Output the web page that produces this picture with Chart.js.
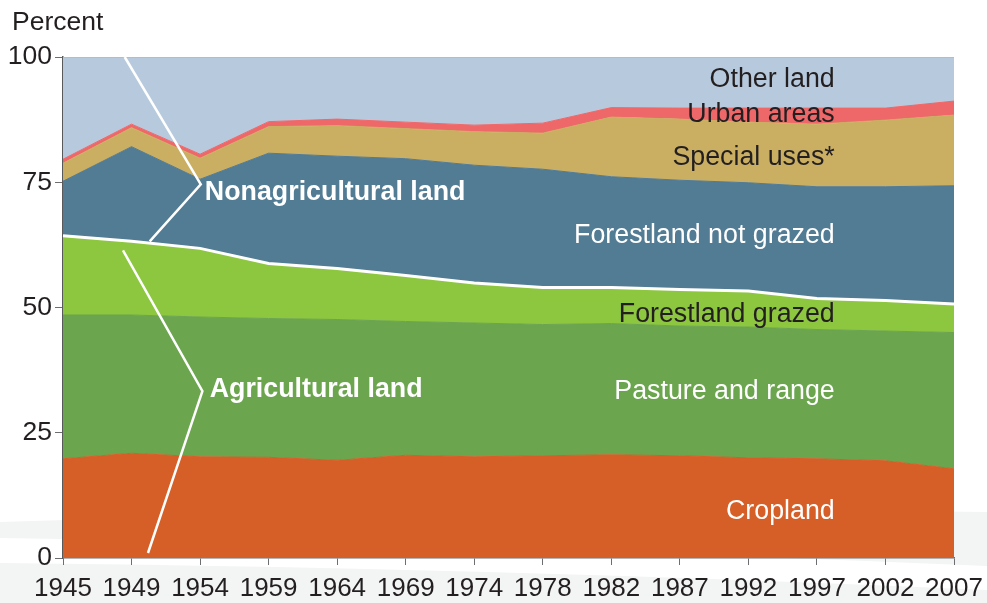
<!DOCTYPE html>
<html>
<head>
<meta charset="utf-8">
<script src="https://cdn.jsdelivr.net/npm/chart.js@4/dist/chart.umd.min.js"></script>
<style>
  html, body { margin: 0; padding: 0; background: #fff; }
  #wrap { width: 987px; height: 603px; position: relative; }
</style>
</head>
<body>
<div id="wrap"><canvas id="landChart" width="987" height="603"></canvas></div>
<script>
const years = ['1945', '1949', '1954', '1959', '1964', '1969', '1974', '1978', '1982', '1987', '1992', '1997', '2002', '2007'];
const yTicks = [0, 25, 50, 75, 100];

// share of total land area, percent (each layer stacked on the one below)
const cropland        = [19.8, 20.9, 20.2, 20.1, 19.5, 20.5, 20.2, 20.4, 20.6, 20.4, 20.0, 19.8, 19.4, 17.8];
const pastureRange    = [28.7, 27.6, 27.9, 27.7, 28.1, 26.7, 26.7, 26.2, 26.2, 25.9, 26.1, 25.8, 25.9, 27.2];
const forestGrazed    = [15.8, 14.7, 13.7, 11.0, 10.2,  9.2,  8.0,  7.4,  7.2,  7.3,  7.2,  6.2,  6.1,  5.7];
const forestNotGrazed = [10.9, 18.9, 13.8, 22.0, 22.4, 23.3, 23.5, 23.6, 22.1, 21.8, 21.6, 22.3, 22.7, 23.6];
const specialUses     = [ 3.6,  3.8,  4.2,  5.3,  6.1,  6.0,  6.7,  7.2, 11.9, 12.2, 12.1, 12.5, 13.3, 14.1];
const urbanAreas      = [ 0.8,  0.7,  0.8,  1.0,  1.3,  1.3,  1.3,  2.0,  1.9,  2.2,  2.8,  3.2,  2.4,  2.8];
const otherLand       = [20.4, 13.4, 19.4, 12.9, 12.4, 13.0, 13.6, 13.2, 10.1, 10.2, 10.2, 10.2, 10.2,  8.8];

const FONT = "'Liberation Sans', Arial, Helvetica, sans-serif";
const DARK = '#231f20';

// series labels drawn inside the areas: [text, x (category index), y (percent), color, bold, align]
const areaLabels = [
  ['Other land', 11.26, 95.5, DARK, false, 'right'],
  ['Urban areas', 11.26, 88.5, DARK, false, 'right'],
  ['Special uses*', 11.26, 79.9, DARK, false, 'right'],
  ['Forestland not grazed', 11.26, 64.4, '#fff', false, 'right'],
  ['Forestland grazed', 11.26, 48.6, DARK, false, 'right'],
  ['Pasture and range', 11.26, 33.2, '#fff', false, 'right'],
  ['Cropland', 11.26, 9.2, '#fff', false, 'right'],
  ['Nonagricultural land', 2.07, 73.0, '#fff', true, 'left'],
  ['Agricultural land', 2.14, 33.7, '#fff', true, 'left']
];

// bracket lines pointing at the two groups, in data units
const bracketNonAg = [[0.90, 100], [2.01, 74.6], [1.265, 63.2]];
const bracketAg = [[0.875, 61.4], [2.034, 33.3], [1.24, 1.0]];

const backdrop = {
  id: 'backdrop',
  beforeDraw(chart) {
    const ctx = chart.ctx;
    ctx.save();
    ctx.fillStyle = '#f3f4f4';
    ctx.beginPath();
    ctx.moveTo(0, 522);
    ctx.quadraticCurveTo(500, 505, 987, 512);
    ctx.lineTo(987, 566);
    ctx.quadraticCurveTo(500, 545, 0, 538);
    ctx.closePath();
    ctx.fill();
    ctx.beginPath();
    ctx.moveTo(0, 563);
    ctx.quadraticCurveTo(500, 568, 987, 590);
    ctx.lineTo(987, 603);
    ctx.lineTo(0, 603);
    ctx.closePath();
    ctx.fill();
    ctx.restore();
  }
};

const annotations = {
  id: 'annotations',
  afterDatasetsDraw(chart) {
    const ctx = chart.ctx;
    const x = chart.scales.x;
    const y = chart.scales.y;
    ctx.save();
    ctx.strokeStyle = '#fff';
    ctx.lineWidth = 2.5;
    ctx.lineJoin = 'miter';
    [bracketNonAg, bracketAg].forEach(pts => {
      ctx.beginPath();
      pts.forEach((p, i) => {
        const px = x.getPixelForValue(p[0]);
        const py = y.getPixelForValue(p[1]);
        if (i === 0) ctx.moveTo(px, py); else ctx.lineTo(px, py);
      });
      ctx.stroke();
    });
    ctx.textBaseline = 'middle';
    areaLabels.forEach(l => {
      ctx.font = (l[4] ? 'bold ' : '') + '26.8px ' + FONT;
      ctx.fillStyle = l[3];
      ctx.textAlign = l[5];
      ctx.fillText(l[0], x.getPixelForValue(l[1]), y.getPixelForValue(l[2]));
    });
    // axis title
    ctx.font = '26.5px ' + FONT;
    ctx.fillStyle = DARK;
    ctx.textAlign = 'left';
    ctx.fillText('Percent', 12, 23);
    ctx.restore();
  }
};

function layer(label, data, color, fill, extra) {
  return Object.assign({
    label,
    data,
    backgroundColor: color,
    borderColor: color,
    borderWidth: 1,
    fill,
    pointRadius: 0,
    tension: 0
  }, extra || {});
}

new Chart(document.getElementById('landChart'), {
  type: 'line',
  data: {
    labels: years,
    datasets: [
      layer('Cropland', cropland, '#d65f28', 'origin'),
      layer('Pasture and range', pastureRange, '#6ba54e', '-1'),
      layer('Forestland grazed', forestGrazed, '#8dc63f', '-1', { borderColor: '#ffffff', borderWidth: 3 }),
      layer('Forestland not grazed', forestNotGrazed, '#527b94', '-1'),
      layer('Special uses*', specialUses, '#caaf63', '-1'),
      layer('Urban areas', urbanAreas, '#ef6869', '-1'),
      layer('Other land', otherLand, '#b7cadd', '-1', { borderColor: '#9cc08f' })
    ]
  },
  options: {
    responsive: false,
    animation: false,
    layout: { padding: { top: 57, right: 33, left: 0, bottom: 0 } },
    plugins: {
      legend: { display: false },
      tooltip: { enabled: false }
    },
    scales: {
      x: {
        offset: false,
        grid: { drawOnChartArea: false, drawTicks: true, tickLength: 7, color: '#6d6e71', lineWidth: 1 },
        border: { display: true, color: '#6d6e71', width: 1.5 },
        ticks: { color: DARK, font: { family: FONT, size: 26 }, padding: 8, maxRotation: 0, autoSkip: false },
        afterFit: (scale) => {
          scale.height = 45;
          scale.paddingLeft = 0;
          scale.paddingRight = 0;
        }
      },
      y: {
        stacked: true,
        min: 0,
        max: 100,
        afterBuildTicks: (scale) => { scale.ticks = yTicks.map(v => ({ value: v })); },
        grid: { drawOnChartArea: false, drawTicks: true, tickLength: 8, color: '#6d6e71', lineWidth: 1 },
        border: { display: true, color: '#58595b', width: 1.5 },
        ticks: { color: DARK, font: { family: FONT, size: 26.5 }, padding: 3 },
        afterFit: (scale) => {
          scale.width = 63;
          scale.paddingTop = 0;
          scale.paddingBottom = 0;
        }
      }
    }
  },
  plugins: [backdrop, annotations]
});
</script>
</body>
</html>
